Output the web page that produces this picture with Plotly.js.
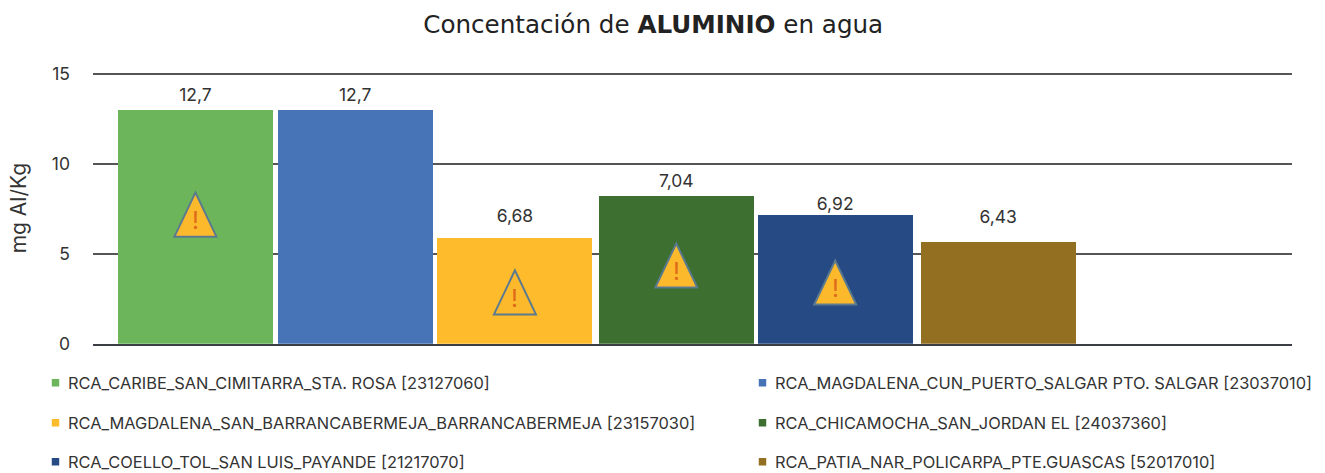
<!DOCTYPE html>
<html><head><meta charset="utf-8">
<script src="https://cdn.plot.ly/plotly-3.0.1.min.js"></script>
<style>html,body{margin:0;padding:0;background:#fff;overflow:hidden}</style></head>
<body><div style="width:1325px;height:473px;overflow:hidden"><div id="chart"></div></div>
<script>
const categories = [
 "RCA_CARIBE_SAN_CIMITARRA_STA. ROSA [23127060]",
 "RCA_MAGDALENA_CUN_PUERTO_SALGAR PTO. SALGAR [23037010]",
 "RCA_MAGDALENA_SAN_BARRANCABERMEJA_BARRANCABERMEJA [23157030]",
 "RCA_CHICAMOCHA_SAN_JORDAN EL [24037360]",
 "RCA_COELLO_TOL_SAN LUIS_PAYANDE [21217070]",
 "RCA_PATIA_NAR_POLICARPA_PTE.GUASCAS [52017010]"];
const barPositions = [0, 0.995, 1.99, 2.995, 3.985, 5];
const barHeights = [13.04, 13.04, 5.9, 8.26, 7.22, 5.67];
const valueLabels = ["12,7","12,7","6,68","7,04","6,92","6,43"];
const labelHeights = [13.74, 13.74, 7.0, 8.96, 7.7, 6.94];
const colors = ["#6DB55B","#4674B7","#FEBB2B","#3D6F31","#254A84","#936F21"];
const warnPositions = [0, 1.99, 2.995, 3.985];
const warnBase = [5.96, 1.63, 3.13, 2.18];
const legendX = [28, 735, 28, 735, 28, 735];
const legendY = [383, 383, 423, 423, 462, 462];
const font = "Inter, 'Liberation Sans', sans-serif";
const W = 1325, H = 490;

const traces = categories.map((c, i) => ({
  type: "bar", x: [barPositions[i]], y: [barHeights[i]], name: c, width: 0.965,
  marker: {color: colors[i]}, legend: i ? "legend" + (i + 1) : "legend",
  hoverinfo: "name+y"
}));
traces.push({type: "scatter", mode: "text", x: barPositions, y: labelHeights, text: valueLabels,
  textposition: "middle center", textfont: {family: font, size: 17.5, color: "#333"},
  showlegend: false, hoverinfo: "skip", cliponaxis: false});

const shapes = warnPositions.map((px, k) => ({
  type: "path", xref: "x", yref: "y", xsizemode: "pixel", ysizemode: "pixel",
  xanchor: px, yanchor: warnBase[k], path: "M-21,0 L21,0 L0,44 Z",
  fillcolor: "#FDB92C", line: {color: "#5B7A8F", width: 2}, layer: "above"
}));
const annotations = warnPositions.map((px, k) => ({
  x: px, y: warnBase[k] + 0.89, xref: "x", yref: "y", text: "!", showarrow: false,
  font: {family: font, size: 24, color: "#DD6A1A"}
}));

const layout = {
  width: W, height: H, autosize: false,
  paper_bgcolor: "#fff", plot_bgcolor: "#fff",
  margin: {l: 0, r: 0, t: 0, b: 0, pad: 0},
  title: {text: "Concentación de <b>ALUMINIO</b> en agua", x: 0.493, xanchor: "center",
    y: 1 - 24 / H, yanchor: "middle", font: {family: "'DejaVu Sans', sans-serif", size: 24.6, color: "#222"}},
  bargap: 0, barmode: "overlay", shapes, annotations,
  xaxis: {domain: [93 / W, 1292 / W], range: [-0.638, 6.83], showticklabels: false, ticks: "",
    showgrid: false, zeroline: false, showline: true, linecolor: "#3B3F45", linewidth: 1.5},
  yaxis: {domain: [(H - 343.7) / H, (H - 72.5) / H], range: [0, 15.1], tickvals: [0, 5, 10, 15], ticks: "",
    showgrid: true, gridcolor: "#555", gridwidth: 1.5, zeroline: false, ticklabelstandoff: 22,
    tickfont: {family: font, size: 17.5, color: "#333"},
    title: {text: "mg Al/Kg", standoff: 19, font: {family: font, size: 21, color: "#333"}}},
};
categories.forEach((c, i) => {
  layout[i ? "legend" + (i + 1) : "legend"] = {
    xref: "paper", yref: "paper", x: legendX[i] / W, y: 1 - legendY[i] / H,
    xanchor: "left", yanchor: "middle", bgcolor: "rgba(0,0,0,0)", borderwidth: 0,
    font: {family: font, size: 16.4, color: "#333"}
  };
});
Plotly.newPlot("chart", traces, layout, {displayModeBar: false}).then(() => {
  document.querySelectorAll("#chart .legendpoints path").forEach(p => {
    p.setAttribute("transform", "translate(27.5,0) scale(0.62)");
  });
});
</script></body></html>
